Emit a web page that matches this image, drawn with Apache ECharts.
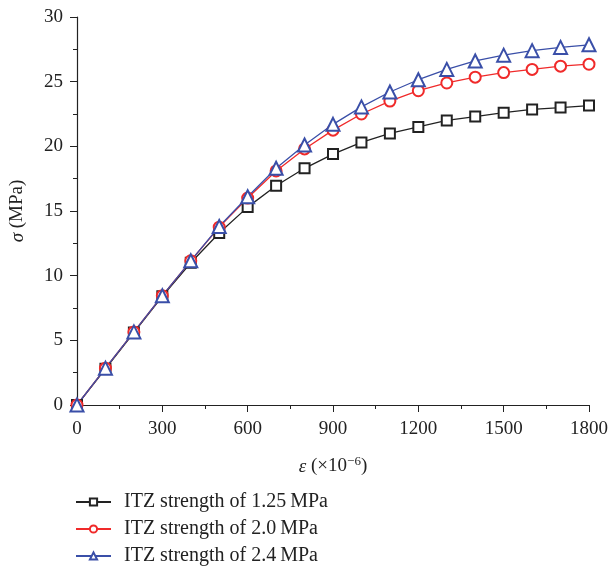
<!DOCTYPE html>
<html>
<head>
<meta charset="utf-8">
<script src="https://cdn.jsdelivr.net/npm/echarts@6/dist/echarts.min.js"></script>
<style>
html, body { margin: 0; padding: 0; background: #fff; }
#chart { width: 611px; height: 567px; }
</style>
</head>
<body>
<div id="chart"></div>
<script>
// strain (x10^-6)
var strain = [0, 100, 200, 300, 400, 500, 600, 700, 800, 900, 1000, 1100, 1200, 1300, 1400, 1500, 1600, 1700, 1800];

// stress (MPa) for each ITZ strength
var itz125 = [0, 2.8, 5.6, 8.4, 11.0, 13.3, 15.3, 16.95, 18.3, 19.4, 20.3, 21.0, 21.5, 22.0, 22.3, 22.6, 22.85, 23.0, 23.15];
var itz20 = [0, 2.85, 5.65, 8.45, 11.15, 13.75, 16.0, 18.1, 19.8, 21.25, 22.5, 23.5, 24.3, 24.9, 25.35, 25.7, 25.95, 26.2, 26.35];
var itz24 = [0, 2.85, 5.65, 8.45, 11.15, 13.8, 16.1, 18.3, 20.1, 21.7, 23.05, 24.2, 25.15, 25.95, 26.6, 27.05, 27.4, 27.65, 27.85];

var seriesNames = ['ITZ strength of 1.25\u2009MPa', 'ITZ strength of 2.0\u2009MPa', 'ITZ strength of 2.4\u2009MPa'];

var pairs = function (ys) {
    var out = [];
    for (var i = 0; i < strain.length; i++) {
        out.push([strain[i], ys[i]]);
    }
    return out;
};

var FONT = '"Liberation Serif", "DejaVu Serif", serif';

var chart = echarts.init(document.getElementById('chart'));

var makeSeries = function (name, ys, symbol, color, size) {
    return {
        name: name,
        type: 'line',
        data: pairs(ys),
        symbol: symbol,
        symbolSize: size,
        showAllSymbol: true,
        lineStyle: { color: color, width: 1.3 },
        itemStyle: { color: color, borderColor: color, borderWidth: 1.4 },
        emphasis: { disabled: true }
    };
};

var plainNum = function (v) { return String(v); };

var option = {
    animation: false,
    backgroundColor: '#fff',
    textStyle: { fontFamily: FONT },
    grid: { left: 75, right: 19, top: 17, bottom: 162 },
    legend: {
        orient: 'vertical',
        left: 70,
        top: 487,
        height: 85,
        itemWidth: 35,
        itemHeight: 9,
        itemGap: 7,
        textStyle: { fontFamily: FONT, fontSize: 20, color: '#222', padding: [0, 0, 0, 8] },
        data: seriesNames
    },
    xAxis: {
        type: 'value',
        min: 0,
        max: 1800,
        interval: 300,
        name: '{i|\u03b5} (\u00d710{sup|\u22126})',
        nameLocation: 'middle',
        nameGap: 50,
        nameTextStyle: {
            fontFamily: FONT, fontSize: 19, color: '#222',
            rich: {
                i: { fontFamily: FONT, fontStyle: 'italic', fontSize: 19, color: '#222' },
                sup: { fontFamily: FONT, fontSize: 13, color: '#222', verticalAlign: 'top', padding: [0, 0, 10, 0] }
            }
        },
        axisLine: { show: true, lineStyle: { color: '#222', width: 1.2 } },
        axisTick: { show: true, inside: false, length: 7, lineStyle: { color: '#222' } },
        minorTick: { show: true, splitNumber: 2, length: 4, lineStyle: { color: '#222' } },
        axisLabel: { fontFamily: FONT, fontSize: 19, color: '#222', margin: 15, formatter: plainNum },
        splitLine: { show: false }
    },
    yAxis: {
        type: 'value',
        min: 0,
        max: 30,
        interval: 5,
        name: '{i|\u03c3} (MPa)',
        nameLocation: 'middle',
        nameGap: 50,
        nameTextStyle: {
            fontFamily: FONT, fontSize: 19, color: '#222',
            rich: {
                i: { fontFamily: FONT, fontStyle: 'italic', fontSize: 19, color: '#222' }
            }
        },
        axisLine: { show: true, lineStyle: { color: '#222', width: 1.2 } },
        axisTick: { show: true, inside: false, length: 7, lineStyle: { color: '#222' } },
        minorTick: { show: true, splitNumber: 2, length: 4, lineStyle: { color: '#222' } },
        axisLabel: { fontFamily: FONT, fontSize: 19, color: '#222', margin: 14, formatter: plainNum },
        splitLine: { show: false }
    },
    series: [
        makeSeries(seriesNames[0], itz125, 'emptyRect', '#222222', 10),
        makeSeries(seriesNames[1], itz20, 'emptyCircle', '#f02a2a', 11),
        makeSeries(seriesNames[2], itz24, 'emptyTriangle', '#3a4fa8', 13)
    ]
};

chart.setOption(option);
</script>
</body>
</html>
